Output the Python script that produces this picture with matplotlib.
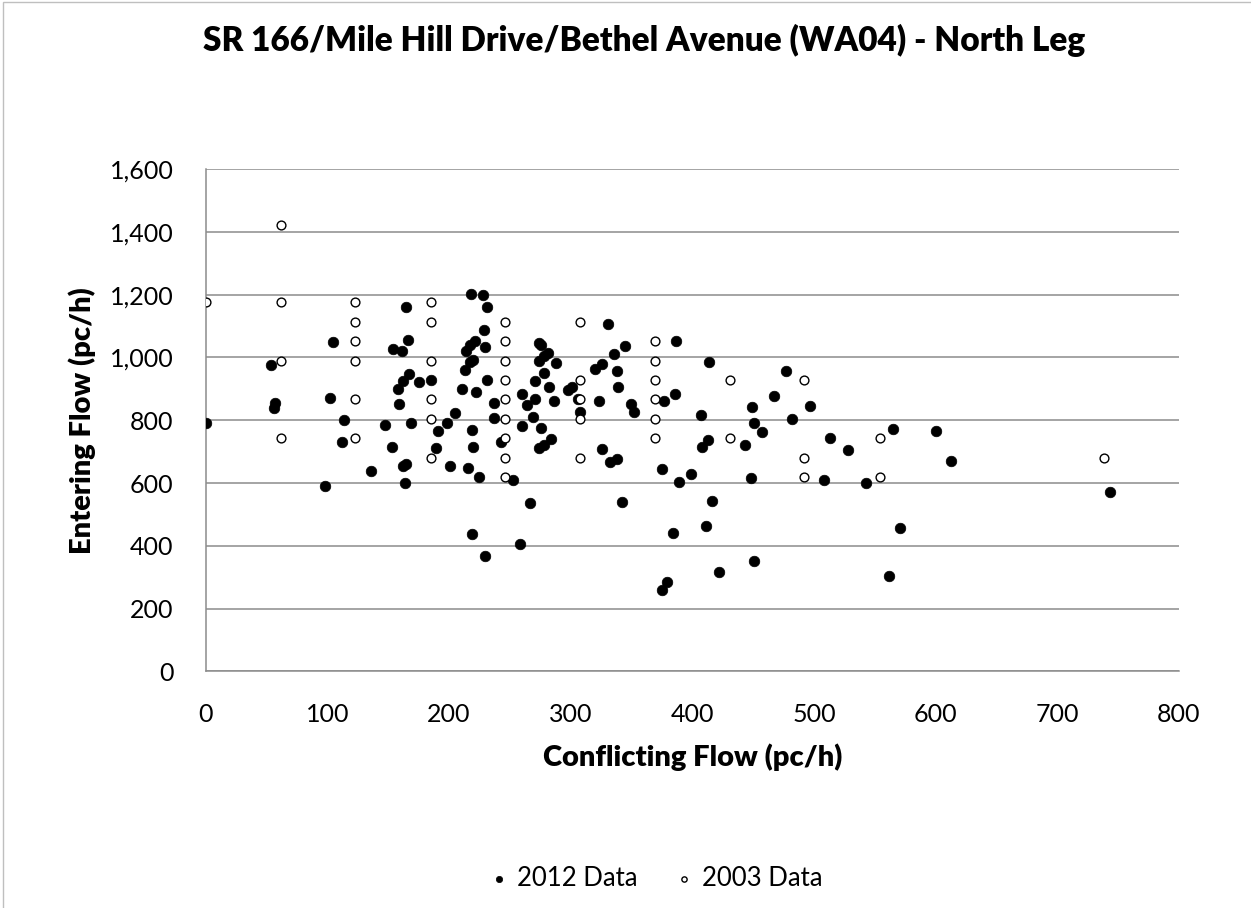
import matplotlib
matplotlib.use("Agg")
import matplotlib.pyplot as plt
from matplotlib.ticker import FuncFormatter, MultipleLocator
from matplotlib.patches import Rectangle

plt.rcParams['font.family'] = ['Lato', 'DejaVu Sans']

# 2012 counts: conflicting flow vs entering flow (pc/h)
conf_2012 = [0, 54, 57, 56, 98, 102, 105, 112, 114, 136, 147, 153, 154, 158, 159,
             161, 162, 162, 165, 164, 165, 166, 167, 169, 175, 185, 189, 191, 198,
             201, 205, 211, 213, 214, 216, 217, 217, 218, 219, 219, 220, 220, 221,
             222, 225, 228, 229, 230, 230, 231, 231, 237, 237, 243, 253, 258, 260,
             260, 264, 267, 269, 271, 271, 274, 276, 274, 274, 276, 278, 278, 278,
             281, 282, 284, 286, 288, 298, 301, 306, 308, 320, 323, 326, 326, 331,
             332, 336, 338, 338, 339, 342, 345, 350, 352, 375, 375, 377, 379, 384,
             386, 387, 389, 399, 407, 408, 411, 413, 414, 416, 422, 443, 448, 449,
             451, 451, 457, 467, 477, 482, 497, 508, 513, 528, 543, 562, 565, 571,
             600, 613, 743]
entr_2012 = [790, 977, 856, 840, 591, 871, 1049, 730, 801, 638, 785, 716, 1028, 900, 852,
             1021, 925, 655, 661, 601, 1160, 1055, 948, 791, 922, 928, 711, 767, 792,
             655, 822, 901, 960, 1021, 649, 1039, 985, 1202, 439, 769, 716, 993, 1052,
             890, 620, 1200, 1087, 1034, 369, 1160, 927, 855, 808, 732, 610, 407, 883,
             782, 848, 535, 810, 869, 925, 1045, 1040, 989, 713, 774, 1004, 949, 721,
             1015, 905, 740, 861, 981, 897, 906, 868, 826, 963, 862, 979, 707, 1106,
             666, 1011, 676, 958, 906, 539, 1036, 853, 825, 644, 260, 862, 286, 440,
             884, 1052, 604, 630, 816, 716, 464, 738, 985, 543, 317, 722, 617, 843,
             791, 352, 763, 876, 956, 804, 845, 610, 743, 705, 599, 304, 771, 458,
             766, 670, 572]

# 2003 counts
conf_2003 = [0,
             62, 62, 62, 62,
             123, 123, 123, 123, 123, 123,
             185, 185, 185, 185, 185, 185,
             246, 246, 246, 246, 246, 246, 246, 246, 246,
             308, 308, 308, 308, 308,
             369, 369, 369, 369, 369, 369,
             431, 431,
             492, 492, 492,
             554, 554,
             738]
entr_2003 = [1175,
             1423, 1175, 990, 742,
             1175, 1113, 1052, 990, 866, 742,
             1175, 1113, 990, 866, 804, 681,
             1113, 1052, 990, 928, 866, 804, 742, 681, 619,
             1113, 928, 866, 804, 681,
             1052, 990, 928, 866, 804, 742,
             928, 742,
             928, 681, 619,
             742, 619,
             681]

title = "SR 166/Mile Hill Drive/Bethel Avenue (WA04) - North Leg"
x_label = "Conflicting Flow (pc/h)"
y_label = "Entering Flow (pc/h)"

fig = plt.figure(figsize=(12.51, 9.08), dpi=100)
ax = fig.add_axes([0.1644, 0.2605, 0.7780, 0.5534])

ax.scatter(conf_2012, entr_2012, s=58, c='black', edgecolors='black',
           linewidths=0.5, label='2012 Data', zorder=3)
ax.scatter(conf_2003, entr_2003, s=40, c='white', edgecolors='black',
           linewidths=1.0, label='2003 Data', zorder=4)

ax.set_xlim(0, 800)
ax.set_ylim(0, 1600)
ax.xaxis.set_major_locator(MultipleLocator(100))
ax.yaxis.set_major_locator(MultipleLocator(200))
ax.yaxis.set_major_formatter(FuncFormatter(lambda v, p: f"{int(v):,}"))
ax.grid(axis='y', color='#8c8c8c', linewidth=1.1, zorder=0)
ax.set_axisbelow(True)
for side in ['top', 'right']:
    ax.spines[side].set_visible(False)
for side in ['left', 'bottom']:
    ax.spines[side].set_color('#8c8c8c')
    ax.spines[side].set_linewidth(1.1)
ax.tick_params(length=0, labelsize=18, pad=23)

ax.set_xlabel(x_label, fontsize=21, fontweight='heavy', labelpad=12)
ax.set_ylabel(y_label, fontsize=21, fontweight='heavy', labelpad=10)
fig.text(0.515, 0.955, title, ha='center', va='center',
         fontsize=24, fontweight='heavy')

leg = fig.legend(loc='center', bbox_to_anchor=(0.525, 0.033), ncol=2,
                 frameon=False, fontsize=18.5, handlelength=0.6, handletextpad=0.4,
                 columnspacing=1.5, markerscale=0.6)

# chart area outline
fig.patches.append(Rectangle((0.002, -0.1), 1.2, 1.098, transform=fig.transFigure,
                             fill=False, edgecolor='#bfbfbf', linewidth=1.0))

fig.savefig("out.png", dpi=100)
